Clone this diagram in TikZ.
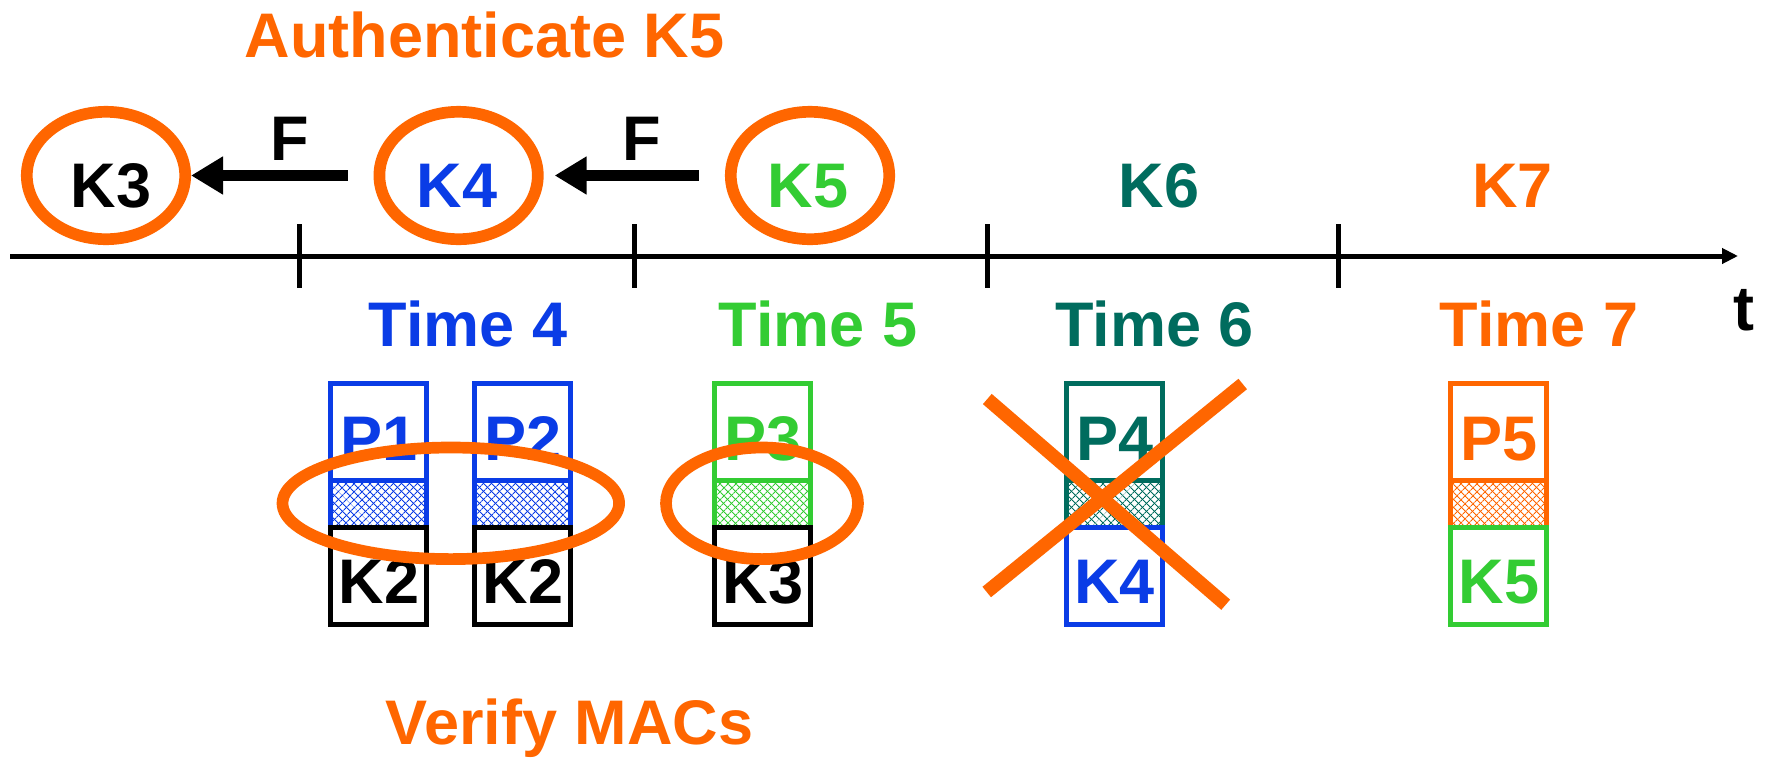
\documentclass[tikz,border=0pt]{standalone}
\usepackage{fontspec}
\setmainfont{Liberation Sans}
\usetikzlibrary{arrows.meta,shapes.geometric,patterns.meta}
\definecolor{mborange}{RGB}{255,102,0}
\definecolor{mbblue}{RGB}{10,60,230}
\definecolor{mbgreen}{RGB}{51,204,51}
\definecolor{mbteal}{RGB}{0,108,94}

% one packet: payload box, MAC field (cross-hatched), disclosed key box
% #1 name, #2 x centre, #3 payload colour, #4 payload text, #5 key colour, #6 key text
\newcommand\mbpacket[6]{%
  \node[pbox=#3] (#1p) at (#2,431.75) {};
  \node[macbox=#3] (#1m) at (#2,503.5) {};
  \node[kbox=#5] (#1k) at (#2,575.5) {};
  \node[lbl, text=#3] (#1pt) at (#2,460) {#4};
  \node[lbl, text=#5] (#1kt) at (#2,603.3) {#6};
}

\begin{document}
\begin{tikzpicture}[x=1pt,y=-1pt,
  lbl/.style={font=\bfseries\fontsize{63}{63}\selectfont, inner sep=0pt, anchor=base},
  keyring/.style={draw=mborange, line width=11.7pt, ellipse, inner sep=0pt,
    minimum width=158.4pt, minimum height=127.4pt},
  groupring/.style={draw=mborange, line width=11.7pt, ellipse, inner sep=0pt,
    minimum height=111.6pt},
  pbox/.style={draw=#1, line width=5pt, rectangle, inner sep=0pt,
    minimum width=96pt, minimum height=96.5pt},
  kbox/.style={draw=#1, line width=5pt, rectangle, inner sep=0pt,
    minimum width=96pt, minimum height=97pt},
  macbox/.style={draw=#1, line width=5pt, rectangle, inner sep=0pt,
    minimum width=96pt, minimum height=47pt,
    pattern={Lines[angle=45,distance=5.4pt,line width=1.1pt]}, pattern color=#1,
    postaction={pattern={Lines[angle=-45,distance=5.4pt,line width=1.1pt]}, pattern color=#1}},
  farrow/.style={line width=11.7pt, -{Triangle[length=32pt,width=36pt]}},
  axis/.style={line width=5pt, -{Triangle[length=16pt,width=15pt]}},
  tickmark/.style={line width=5pt},
  strike/.style={draw=mborange, line width=13.5pt}
]
\path[fill=white] (0,0) rectangle (1766,758);

% time axis with interval boundaries
\coordinate (axstart) at (10,256);
\coordinate (axend) at (1738,256);
\draw[axis] (axstart) -- (axend);
\foreach \tx in {299,634,987,1338.5}
  \draw[tickmark] (\tx,224) -- (\tx,288);
\node[lbl] (tlabel) at (1744,330.7) {t};

% title
\node[lbl, text=mborange] (title) at (484.4,57.3) {Authenticate K5};

% key chain
\node[lbl] (k3) at (111,207.7) {K3};
\node[lbl, text=mbblue] (k4) at (457,207.7) {K4};
\node[lbl, text=mbgreen] (k5) at (808,207.7) {K5};
\node[lbl, text=mbteal] (k6) at (1159,207.7) {K6};
\node[lbl, text=mborange] (k7) at (1512.5,207.7) {K7};

\node[keyring] (r3) at (106,175.5) {};
\node[keyring] (r4) at (458.6,175.5) {};
\node[keyring] (r5) at (810,175.5) {};

\draw[farrow, shorten <=26pt] (r4.west) -- (r3.east);
\draw[farrow, shorten <=26pt, shorten >=11pt] (r5.west) -- (r4.east);
\node[lbl] (f1) at (290,160) {F};
\node[lbl] (f2) at (642,160) {F};

% interval labels
\node[lbl, text=mbblue] (time4) at (468,346.7) {Time 4};
\node[lbl, text=mbgreen] (time5) at (818,346.7) {Time 5};
\node[lbl, text=mbteal] (time6) at (1154.5,346.7) {Time 6};
\node[lbl, text=mborange] (time7) at (1539,346.7) {Time 7};

% packets
\mbpacket{pa}{378.8}{mbblue}{P1}{black}{K2}
\mbpacket{pb}{522.8}{mbblue}{P2}{black}{K2}
\mbpacket{pc}{762.8}{mbgreen}{P3}{black}{K3}
\mbpacket{pd}{1114.7}{mbteal}{P4}{mbblue}{K4}
\mbpacket{pe}{1498.8}{mborange}{P5}{mbgreen}{K5}

% MACs being verified
\node[groupring, minimum width=336.6pt] (g1) at (450.8,503.3) {};
\node[groupring, minimum width=192pt] (g2) at (762,503.3) {};

% rejected packet
\coordinate (xa1) at (987.3,399);
\coordinate (xa2) at (1225.7,604.7);
\coordinate (xb1) at (986.7,592);
\coordinate (xb2) at (1242.7,384);
\draw[strike] (xa1) -- (xa2);
\draw[strike] (xb1) -- (xb2);

\node[lbl, text=mborange] (verify) at (569.5,744) {Verify MACs};
\end{tikzpicture}
\end{document}
